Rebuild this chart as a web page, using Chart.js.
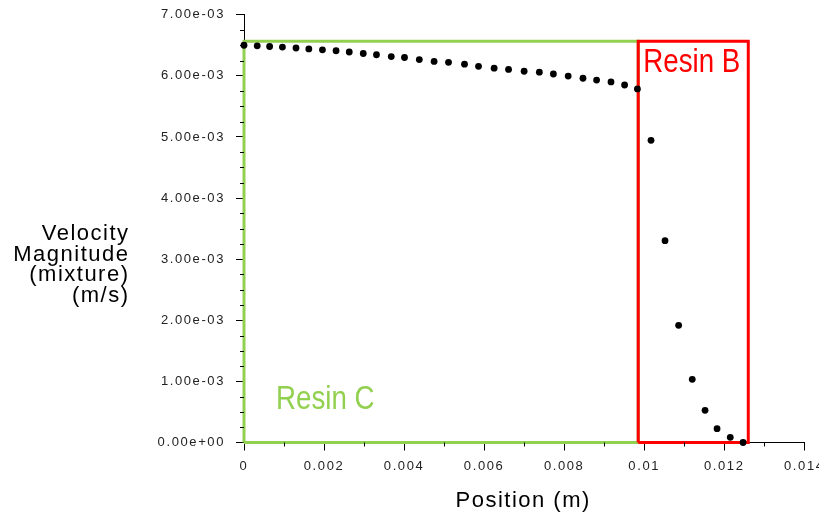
<!DOCTYPE html>
<html><head><meta charset="utf-8">
<script src="https://cdn.jsdelivr.net/npm/chart.js@4.4.1/dist/chart.umd.min.js"></script>
<style>html,body{margin:0;padding:0;background:#fff}#wrap{width:819px;height:512px;position:relative}</style>
</head><body><div id="wrap"><canvas id="c" width="819" height="512"></canvas></div>
<script>
// ---- data ----
const positions = [0, 0.00033, 0.00064, 0.00096, 0.0013, 0.00162, 0.00196, 0.0023, 0.00263, 0.00298,
  0.00331, 0.00368, 0.00401, 0.00438, 0.00475, 0.00511, 0.00551, 0.00586, 0.00625, 0.00661,
  0.007, 0.00738, 0.00773, 0.0081, 0.00847, 0.00881, 0.00917, 0.00951, 0.00983,
  0.01017, 0.01052, 0.01086, 0.0112, 0.01152, 0.01182, 0.01215, 0.01247];
const velocities = [6.50e-3, 6.49e-3, 6.48e-3, 6.47e-3, 6.455e-3, 6.44e-3, 6.425e-3, 6.41e-3, 6.39e-3, 6.365e-3,
  6.345e-3, 6.315e-3, 6.30e-3, 6.265e-3, 6.235e-3, 6.22e-3, 6.19e-3, 6.155e-3, 6.125e-3, 6.105e-3,
  6.075e-3, 6.06e-3, 6.03e-3, 5.995e-3, 5.96e-3, 5.93e-3, 5.90e-3, 5.85e-3, 5.785e-3,
  4.945e-3, 3.302e-3, 1.918e-3, 1.034e-3, 0.527e-3, 0.226e-3, 0.085e-3, 0];
const xTickValues = [0, 0.002, 0.004, 0.006, 0.008, 0.01, 0.012, 0.014];
const xTickLabels = ['0', '0.002', '0.004', '0.006', '0.008', '0.01', '0.012', '0.014'];
const yTickValues = [0, 0.001, 0.002, 0.003, 0.004, 0.005, 0.006, 0.007];
const yTickLabels = ['0.00e+00', '1.00e-03', '2.00e-03', '3.00e-03', '4.00e-03', '5.00e-03', '6.00e-03', '7.00e-03'];
const regionNames = ['Resin C', 'Resin B'];
const resinCRange = [0, 0.00985];
const resinBRange = [0.00985, 0.0126];
const regionTop = 0.006565;
const yTitleLines = ['Velocity', 'Magnitude', '(mixture)', '(m/s)'];
const xTitle = 'Position (m)';

// ---- styles ----
const GREEN = '#92d050', RED = '#ff0000';
const boxPath = r => [{x:r[0],y:0},{x:r[0],y:regionTop},{x:r[1],y:regionTop},{x:r[1],y:0},{x:r[0],y:0}];

function narrowText(ctx, t, x, y) {
  ctx.save();
  ctx.translate(x, y);
  ctx.scale(0.84, 1);
  ctx.fillText(t, 0, 0);
  ctx.restore();
}

const decor = {
  id: 'decor',
  beforeDraw(chart) {
    chart.ctx.letterSpacing = '1.6px';
  },
  afterDraw(chart) {
    const ctx = chart.ctx, xs = chart.scales.x, ys = chart.scales.y, a = chart.chartArea;
    ctx.save();
    // minor ticks
    ctx.strokeStyle = '#000'; ctx.lineWidth = 1;
    ctx.beginPath();
    for (let k = 0; k <= 28; k++) {
      if (k % 4 === 0) continue;
      const py = Math.round(ys.getPixelForValue(k * 0.00025)) + 0.5;
      ctx.moveTo(a.left - 4, py); ctx.lineTo(a.left, py);
    }
    for (let k = 1; k < 14; k += 2) {
      const px = Math.round(xs.getPixelForValue(k * 0.001)) + 0.5;
      ctx.moveTo(px, a.bottom); ctx.lineTo(px, a.bottom + 4);
    }
    ctx.stroke();
    // y title
    ctx.fillStyle = '#000';
    ctx.letterSpacing = '1.5px';
    ctx.font = '22px "Liberation Sans", Arial, sans-serif';
    ctx.textAlign = 'right'; ctx.textBaseline = 'alphabetic';
    const base = [239.5, 260.5, 281.2, 301.8];
    yTitleLines.forEach((t, i) => ctx.fillText(t, 129.5, base[i]));
    // x title
    ctx.textAlign = 'center';
    ctx.fillText(xTitle, (a.left + a.right) / 2 - 1, 507);
    // region labels
    ctx.letterSpacing = '0px';
    ctx.textAlign = 'left';
    ctx.font = '33px "Liberation Sans", Arial, sans-serif';
    ctx.fillStyle = GREEN;
    narrowText(ctx, regionNames[0], xs.getPixelForValue(resinCRange[0]) + 32, ys.getPixelForValue(0) - 34);
    ctx.fillStyle = RED;
    narrowText(ctx, regionNames[1], xs.getPixelForValue(resinBRange[0]) + 5, ys.getPixelForValue(regionTop) + 31);
    ctx.restore();
    ctx.letterSpacing = '0px';
  }
};

new Chart(document.getElementById('c'), {
  type: 'scatter',
  data: {
    datasets: [
      { data: positions.map((x, i) => ({x, y: velocities[i]})), pointRadius: 3.4, pointHoverRadius: 3.4,
        backgroundColor: '#000', borderColor: '#000', borderWidth: 0, clip: false },
      { data: boxPath(resinBRange), showLine: true, borderColor: RED, borderWidth: 3, pointRadius: 0,
        fill: false, tension: 0, clip: false, borderJoinStyle: 'miter' },
      { data: boxPath(resinCRange), showLine: true, borderColor: GREEN, borderWidth: 3, pointRadius: 0,
        fill: false, tension: 0, clip: false, borderJoinStyle: 'miter' }
    ]
  },
  options: {
    responsive: false, animation: false, devicePixelRatio: 1,
    layout: { padding: { left: 0, right: 14.7, top: 14.7, bottom: 0 } },
    plugins: { legend: { display: false }, tooltip: { enabled: false } },
    events: [],
    scales: {
      x: {
        type: 'linear', position: 'bottom', min: 0, max: 0.014,
        afterBuildTicks: s => { s.ticks = xTickValues.map(v => ({value: v})); },
        afterFit: s => { s.height = 69.5; s.paddingLeft = 0; s.paddingRight = 0; },
        ticks: { callback: (v, i) => xTickLabels[i], color: '#222', padding: 8, maxRotation: 0, autoSkip: false,
          font: { family: '"Liberation Sans", Arial, sans-serif', size: 13 } },
        grid: { display: true, drawOnChartArea: false, drawTicks: true, tickLength: 8, color: '#000', lineWidth: 1 },
        border: { display: true, color: '#000', width: 1 }
      },
      y: {
        type: 'linear', position: 'left', min: 0, max: 0.007,
        afterBuildTicks: s => { s.ticks = yTickValues.map(v => ({value: v})); },
        afterFit: s => { s.width = 244; s.paddingTop = 0; s.paddingBottom = 0; },
        ticks: { callback: (v, i) => yTickLabels[i], color: '#222', padding: 11, autoSkip: false,
          font: { family: '"Liberation Sans", Arial, sans-serif', size: 13 } },
        grid: { display: true, drawOnChartArea: false, drawTicks: true, tickLength: 8, color: '#000', lineWidth: 1 },
        border: { display: true, color: '#000', width: 1 }
      }
    }
  },
  plugins: [decor]
});
</script></body></html>
